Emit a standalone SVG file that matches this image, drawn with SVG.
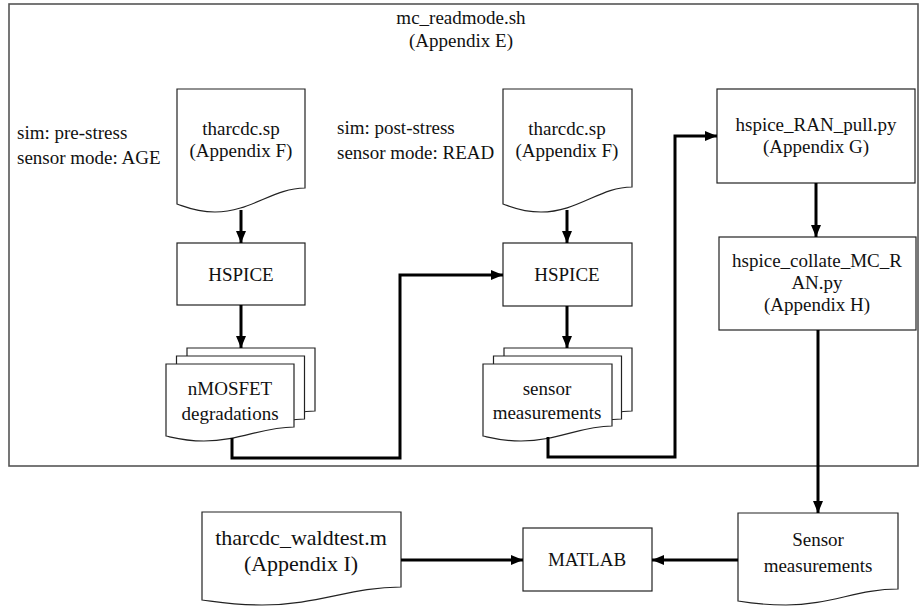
<svg xmlns="http://www.w3.org/2000/svg" width="920" height="606" viewBox="0 0 920 606">
<defs>
<marker id="ah" markerUnits="userSpaceOnUse" markerWidth="12" markerHeight="10" refX="12" refY="5" orient="auto">
<path d="M0,0 L12,5 L0,10 Z" fill="#000"/>
</marker>
<style>
.frame{fill:#fff;stroke:#555;stroke-width:1.6}
.box{fill:#fff;stroke:#222;stroke-width:1.2}
text{font-family:'Liberation Serif','Tinos','Times New Roman','DejaVu Serif',serif;font-size:19px;fill:#111}
.t{text-anchor:middle}
.big{font-size:22px}
.c{fill:none;stroke:#000;stroke-width:3}
</style>
</defs>
<rect width="920" height="606" fill="#fff"/>
<g id="frame">
<rect class="frame" x="9" y="4" width="909" height="462"/>
<text class="t" x="461" y="24" font-family="Liberation Serif, serif">mc_readmode.sh</text>
<text class="t" x="461" y="47" font-family="Liberation Serif, serif">(Appendix E)</text>
</g>
<g id="label-pre">
<text x="17" y="139" font-family="Liberation Serif, serif">sim: pre-stress</text>
<text x="17" y="164" font-family="Liberation Serif, serif">sensor mode: AGE</text>
</g>
<g id="label-post">
<text x="337" y="134" font-family="Liberation Serif, serif">sim: post-stress</text>
<text x="337" y="159" font-family="Liberation Serif, serif">sensor mode: READ</text>
</g>
<g id="doc-sp1">
<path class="box" d="M177,89 H305 V188 C273,188 251,212 215,212 C196,212 186,207 177,204 Z"/>
<text class="t" x="241" y="135" font-family="Liberation Serif, serif">tharcdc.sp</text>
<text class="t" x="241" y="157" font-family="Liberation Serif, serif">(Appendix F)</text>
</g>
<g id="doc-sp2">
<path class="box" d="M503,89 H632 V187 C600,187 578,212 541,212 C522,212 512,207 503,204 Z"/>
<text class="t" x="567" y="135" font-family="Liberation Serif, serif">tharcdc.sp</text>
<text class="t" x="567" y="157" font-family="Liberation Serif, serif">(Appendix F)</text>
</g>
<g id="hspice1">
<rect class="box" x="177" y="243" width="128" height="62"/>
<text class="t" x="241" y="281" font-family="Liberation Serif, serif">HSPICE</text>
</g>
<g id="hspice2">
<rect class="box" x="503" y="243" width="129" height="63"/>
<text class="t" x="567" y="281" font-family="Liberation Serif, serif">HSPICE</text>
</g>
<g id="stack-nmos">
<path class="box" d="M187,348 H315 V411 C283,411 261,426 225,426 C206,426 196,423 187,421 Z"/>
<path class="box" d="M176.5,356 H304.5 V419 C272.5,419 250.5,434 214.5,434 C195.5,434 185.5,431 176.5,429 Z"/>
<path class="box" d="M166,364 H294 V427 C262,427 240,441 204,441 C185,441 175,438 166,436 Z"/>
<text class="t" x="230" y="395" font-family="Liberation Serif, serif">nMOSFET</text>
<text class="t" x="230" y="420" font-family="Liberation Serif, serif">degradations</text>
</g>
<g id="stack-sensor">
<path class="box" d="M504,348 H632 V411 C600,411 578,426 542,426 C523,426 513,423 504,421 Z"/>
<path class="box" d="M493.5,356 H621.5 V419 C589.5,419 567.5,434 531.5,434 C512.5,434 502.5,431 493.5,429 Z"/>
<path class="box" d="M483,364 H612 V426 C580,426 558,441 521,441 C502,441 492,438 483,436 Z"/>
<text class="t" x="547" y="395" font-family="Liberation Serif, serif">sensor</text>
<text class="t" x="547" y="419" font-family="Liberation Serif, serif">measurements</text>
</g>
<g id="ran-pull">
<rect class="box" x="717" y="89" width="198" height="94"/>
<text class="t" x="816" y="131" font-family="Liberation Serif, serif">hspice_RAN_pull.py</text>
<text class="t" x="816" y="153" font-family="Liberation Serif, serif">(Appendix G)</text>
</g>
<g id="collate">
<rect class="box" x="719" y="237" width="197" height="93"/>
<text class="t" x="817" y="267" font-family="Liberation Serif, serif">hspice_collate_MC_R</text>
<text class="t" x="817" y="289" font-family="Liberation Serif, serif">AN.py</text>
<text class="t" x="817" y="311" font-family="Liberation Serif, serif">(Appendix H)</text>
</g>
<g id="sensor-doc">
<path class="box" d="M738,513 H898 V589 C858,589 830,605 786,605 C763,605 750,603 738,601 Z"/>
<text class="t" x="818" y="546" font-family="Liberation Serif, serif">Sensor</text>
<text class="t" x="818" y="572" font-family="Liberation Serif, serif">measurements</text>
</g>
<g id="waldtest">
<path class="box" d="M202,512 H401 V587 C351,587 318,605 262,605 C234,605 218,602 202,600 Z"/>
<text class="t big" x="301" y="545" font-family="Liberation Serif, serif">tharcdc_waldtest.m</text>
<text class="t big" x="301" y="571" font-family="Liberation Serif, serif">(Appendix I)</text>
</g>
<g id="matlab">
<rect class="box" x="523" y="528" width="129" height="63"/>
<text class="t" x="587" y="566" font-family="Liberation Serif, serif">MATLAB</text>
</g>
<g id="connectors">
<path class="c" d="M241,210 V243" marker-end="url(#ah)"/>
<path class="c" d="M567,210 V243" marker-end="url(#ah)"/>
<path class="c" d="M241,305 V348" marker-end="url(#ah)"/>
<path class="c" d="M567,306 V348" marker-end="url(#ah)"/>
<path class="c" d="M232,438 V458 H400 V275 H503" marker-end="url(#ah)"/>
<path class="c" d="M548,437 V457 H675 V136 H717" marker-end="url(#ah)"/>
<path class="c" d="M816,183 V237" marker-end="url(#ah)"/>
<path class="c" d="M818,330 V513" marker-end="url(#ah)"/>
<path class="c" d="M738,560 H652" marker-end="url(#ah)"/>
<path class="c" d="M401,560 H523" marker-end="url(#ah)"/>
</g>
</svg>
